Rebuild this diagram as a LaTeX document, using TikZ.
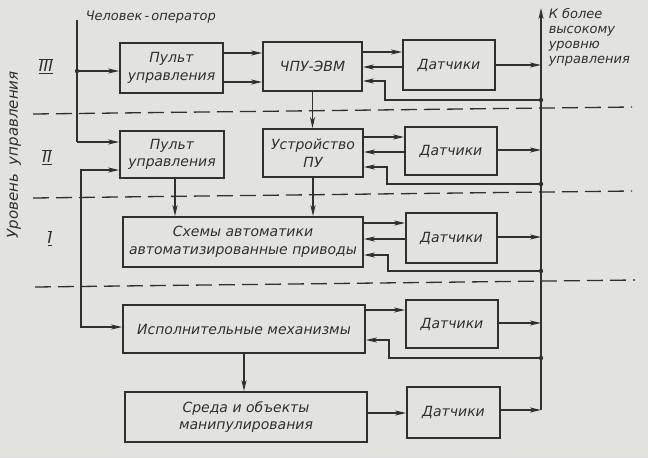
\documentclass[tikz,border=0pt]{standalone}
\usepackage{fontspec}
\setmainfont{DejaVu Sans}
\definecolor{paper}{RGB}{226,226,222}
\definecolor{ink}{RGB}{48,48,48}
\usetikzlibrary{arrows.meta,calc}

\begin{document}
\begin{tikzpicture}[x=1pt, y=-1pt, line width=1.5pt, color=ink,
    box/.style={draw=ink, line width=1.7pt, inner sep=0pt, align=center, text=ink, font=\itshape\fontsize{14}{17.5}\selectfont},
    arr/.style={draw=ink, -{Stealth[length=11pt,width=5pt,inset=3pt]}},
    lvl/.style={draw=ink, line width=1.3pt, dash pattern=on 16pt off 7pt},
    lbl/.style={text=ink, inner sep=0pt, font=\itshape\fontsize{13}{15}\selectfont}]
    \fill[paper] (0,0) rectangle (648,458);
    \useasboundingbox (0,0) rectangle (648,458);
    % level III
    \node[box, minimum width=103pt, minimum height=50pt] (pultA) at (171.5,68) {Пульт\\управления};
    \node[box, minimum width=99pt, minimum height=49pt] (chpu) at (312.5,66.5) {ЧПУ-ЭВМ};
    \node[box, minimum width=92pt, minimum height=50pt] (dA) at (449,65) {Датчики};
    % level II
    \node[box, minimum width=104pt, minimum height=47pt] (pultB) at (172,154.5) {Пульт\\управления};
    \node[box, minimum width=100pt, minimum height=48pt] (upu) at (313,153) {Устройство\\ПУ};
    \node[box, minimum width=92pt, minimum height=48pt] (dB) at (451,151) {Датчики};
    % level I
    \node[box, minimum width=240pt, minimum height=50pt] (shemy) at (243,242) {Схемы автоматики\\автоматизированные приводы};
    \node[box, minimum width=91pt, minimum height=50pt] (dC) at (451.5,238) {Датчики};
    % mechanisms and objects
    \node[box, minimum width=242pt, minimum height=48pt] (isp) at (244,329) {Исполнительные механизмы};
    \node[box, minimum width=92pt, minimum height=48pt] (dD) at (452,324) {Датчики};
    \node[box, minimum width=242pt, minimum height=50pt] (sreda) at (246,417) {Среда и объекты\\манипулирования};
    \node[box, minimum width=93pt, minimum height=51pt] (dE) at (453.5,412.5) {Датчики};

    % levels
    \draw[lvl] (33,114) -- (632,107);
    \draw[lvl] (33,198) -- (632,191);
    \draw[lvl] (35,287) -- (635,280);
    \node[lbl, font=\itshape\fontsize{16}{18}\selectfont] (lvlC) at (46,66) {$\overline{\underline{\hbox{III}}}$};
    \node[lbl, font=\itshape\fontsize{16}{18}\selectfont] (lvlB) at (47,157) {$\overline{\underline{\hbox{II}}}$};
    \node[lbl, font=\itshape\fontsize{16}{18}\selectfont] (lvlA) at (50,238) {$\overline{\underline{\hbox{I}}}$};
    \node[lbl, rotate=90, font=\itshape\fontsize{15}{17}\selectfont] (lvltitle) at (14,155) {Уровень\hspace{9pt}управления};

    % operator
    \coordinate (op) at (77,20);
    \coordinate (opB) at (77,142);
    \node[lbl, anchor=west] (optext) at (85,17) {Человек\,-\,оператор};
    \draw (op) -- (opB);
    \draw[arr] (opB) -- (pultB.west |- opB);
    \fill (op |- 0,71) circle (2.2pt);
    \draw[arr] (op |- 0,71) -- (pultA.west |- 0,71);
    \draw[{Stealth[length=11pt,width=5pt,inset=3pt]}-{Stealth[length=11pt,width=5pt,inset=3pt]}] (pultB.west |- 0,170) -- (81,170) -- (81,327) -- (isp.west |- 0,327);

    % control paths
    \foreach \y in {53,82} {
        \draw[arr] (pultA.east |- 0,\y) -- (chpu.west |- 0,\y);
    }
    \draw[arr] (chpu.south) -- (chpu.south |- upu.north);
    \draw[arr] (pultB.south -| 175,0) -- (shemy.north -| 175,0);
    \draw[arr] (upu.south) -- (upu.south |- shemy.north);
    \draw[arr] (isp.south) -- (isp.south |- sreda.north);

    % sensors
    \foreach \b/\d/\yo/\yi in {chpu/dA/52/67, upu/dB/137/152, shemy/dC/223/239} {
        \draw[arr] (\b.east |- 0,\yo) -- (\d.west |- 0,\yo);
        \draw[arr] (\d.west |- 0,\yi) -- (\b.east |- 0,\yi);
    }
    \draw[arr] (isp.east |- 0,310) -- (dD.west |- 0,310);
    \draw[arr] (sreda.east |- 0,413) -- (dE.west |- 0,413);

    % bus to the higher level
    \coordinate (bus) at (541,410);
    \coordinate (bustop) at (541,8);
    \draw[arr] (bus) -- (bustop);
    \node[lbl, anchor=north west, align=left] (uptext) at (548,8) {К более\\высокому\\уровню\\управления};
    \foreach \d/\y in {dA/65, dB/150, dC/237, dD/323, dE/410} {
        \draw[arr] (\d.east |- 0,\y) -- (bus |- 0,\y);
    }
    \foreach \b/\yd/\xt/\yf in {chpu/100/385/81, upu/184/387/167, shemy/271/388/255, isp/358/389/340} {
        \fill (bus |- 0,\yd) circle (2.2pt);
        \draw[arr] (bus |- 0,\yd) -| (\xt,\yf) -- (\b.east |- 0,\yf);
    }
\end{tikzpicture}
\end{document}
